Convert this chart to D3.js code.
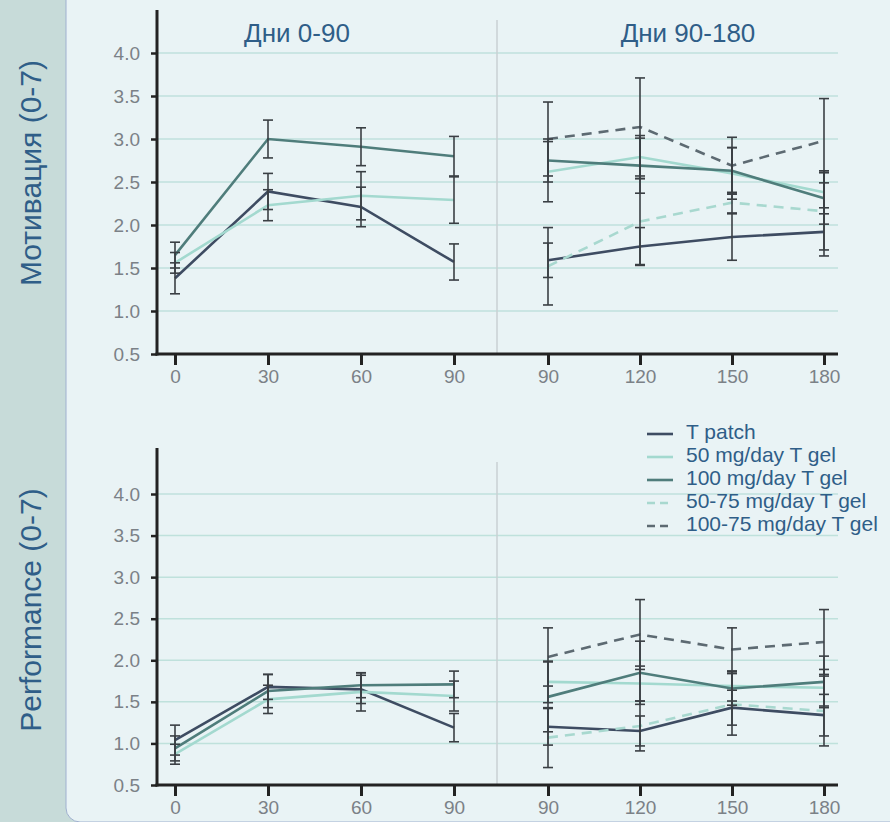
<!DOCTYPE html>
<html>
<head>
<meta charset="utf-8">
<script src="https://cdn.jsdelivr.net/npm/d3@7"></script>
<style>
  html, body { margin: 0; padding: 0; background: #c7dbd9; }
  svg { display: block; }
  text { font-family: "Liberation Sans", Arial, sans-serif; }
</style>
</head>
<body>
<svg id="chart" width="890" height="822"></svg>
<script>
// Study days on the two x-axis segments
const daysA = [0, 30, 60, 90];
const daysB = [90, 120, 150, 180];
const yTicks = [0.5, 1.0, 1.5, 2.0, 2.5, 3.0, 3.5, 4.0];
const panelTitles = ["Дни 0-90", "Дни 90-180"];
const rowLabels = ["Мотивация (0-7)", "Performance (0-7)"];

const seriesNames = ["T patch", "50 mg/day T gel", "100 mg/day T gel", "50-75 mg/day T gel", "100-75 mg/day T gel"];
const seriesKeys = ["patch", "gel50", "gel100", "gel50_75", "gel100_75"];

// Motivation, days 0-90: means and SE
const motA_patch  = [1.38, 2.39, 2.21, 1.57];
const motA_patchE = [0.18, 0.21, 0.23, 0.21];
const motA_gel50  = [1.56, 2.23, 2.34, 2.29];
const motA_gel50E = [0.12, 0.18, 0.28, 0.27];
const motA_gel100  = [1.65, 3.00, 2.91, 2.80];
const motA_gel100E = [0.15, 0.22, 0.22, 0.23];

// Motivation, days 90-180
const motB_patch  = [1.59, 1.75, 1.86, 1.92];
const motB_patchE = [0.20, 0.22, 0.27, 0.28];
const motB_gel50  = [2.62, 2.79, 2.60, 2.38];
const motB_gel50E = [0.35, 0.25, 0.30, 0.25];
const motB_gel100  = [2.75, 2.69, 2.63, 2.31];
const motB_gel100E = [0.25, 0.32, 0.27, 0.30];
const motB_gel50_75  = [1.52, 2.04, 2.26, 2.16];
const motB_gel50_75E = [0.45, 0.50, 0.12, 0.45];
const motB_gel100_75  = [3.00, 3.14, 2.69, 2.98];
const motB_gel100_75E = [0.43, 0.57, 0.33, 0.49];

// Performance, days 0-90
const perA_patch  = [1.04, 1.68, 1.65, 1.19];
const perA_patchE = [0.18, 0.15, 0.17, 0.17];
const perA_gel50  = [0.87, 1.53, 1.62, 1.57];
const perA_gel50E = [0.12, 0.17, 0.23, 0.18];
const perA_gel100  = [0.94, 1.63, 1.70, 1.71];
const perA_gel100E = [0.15, 0.20, 0.15, 0.16];

// Performance, days 90-180
const perB_patch  = [1.20, 1.15, 1.43, 1.34];
const perB_patchE = [0.22, 0.18, 0.21, 0.25];
const perB_gel50  = [1.74, 1.72, 1.69, 1.67];
const perB_gel50E = [0.25, 0.21, 0.18, 0.22];
const perB_gel100  = [1.56, 1.85, 1.66, 1.74];
const perB_gel100E = [0.42, 0.38, 0.20, 0.31];
const perB_gel50_75  = [1.07, 1.21, 1.47, 1.39];
const perB_gel50_75E = [0.36, 0.30, 0.37, 0.42];
const perB_gel100_75  = [2.04, 2.31, 2.13, 2.22];
const perB_gel100_75E = [0.35, 0.42, 0.26, 0.39];

const styles = {
  patch:     { color: "#3e4c62", dash: null },
  gel50:     { color: "#a3d9cf", dash: null },
  gel100:    { color: "#4f7d7b", dash: null },
  gel50_75:  { color: "#a8d8cf", dash: "10,7" },
  gel100_75: { color: "#5d6a72", dash: "10,7" }
};

const textBlue = "#2f5e88";
const tickGrey = "#7b8187";
const svg = d3.select("#chart");

// Backdrop: side strip and lighter main card
svg.append("rect").attr("x", 0).attr("y", 0).attr("width", 890).attr("height", 822).attr("fill", "#c7dbd9");
svg.append("rect").attr("x", 66).attr("y", -30).attr("width", 860).attr("height", 852)
  .attr("rx", 14).attr("fill", "#e9f3f5").attr("stroke", "#9fb0cf").attr("stroke-width", 1);

const xLeft = d3.scaleLinear().domain([0, 90]).range([175, 454]);
const xRight = d3.scaleLinear().domain([90, 180]).range([548, 824]);

const rows = [
  {
    label: rowLabels[0], yTop: 10, y: d3.scaleLinear().domain([0.5, 4.0]).range([354, 53]),
    dividerTop: 20, labelY: 173, titles: true,
    left:  { patch: [motA_patch, motA_patchE], gel50: [motA_gel50, motA_gel50E], gel100: [motA_gel100, motA_gel100E] },
    right: { patch: [motB_patch, motB_patchE], gel50: [motB_gel50, motB_gel50E], gel100: [motB_gel100, motB_gel100E],
             gel50_75: [motB_gel50_75, motB_gel50_75E], gel100_75: [motB_gel100_75, motB_gel100_75E] }
  },
  {
    label: rowLabels[1], yTop: 448, y: d3.scaleLinear().domain([0.5, 4.0]).range([785, 494]),
    dividerTop: 462, labelY: 610, titles: false,
    left:  { patch: [perA_patch, perA_patchE], gel50: [perA_gel50, perA_gel50E], gel100: [perA_gel100, perA_gel100E] },
    right: { patch: [perB_patch, perB_patchE], gel50: [perB_gel50, perB_gel50E], gel100: [perB_gel100, perB_gel100E],
             gel50_75: [perB_gel50_75, perB_gel50_75E], gel100_75: [perB_gel100_75, perB_gel100_75E] }
  }
];

const axisX0 = 157, axisX1 = 838, dividerX = 497;

rows.forEach(row => {
  const y = row.y;
  const g = svg.append("g");
  const base = y(0.5);

  // horizontal grid
  g.selectAll("line.grid").data(yTicks.filter(t => t > 0.5)).enter().append("line")
    .attr("x1", axisX0).attr("x2", axisX1)
    .attr("y1", d => y(d)).attr("y2", d => y(d))
    .attr("stroke", "#bfe1dc").attr("stroke-width", 1.5);

  // segment divider
  g.append("line").attr("x1", dividerX).attr("x2", dividerX)
    .attr("y1", row.dividerTop).attr("y2", base)
    .attr("stroke", "#c9d0d3").attr("stroke-width", 1.5);

  // y axis
  const yAxis = d3.axisLeft(y).tickValues(yTicks).tickSize(6).tickPadding(11).tickFormat(d3.format(".1f"));
  const ya = g.append("g").attr("transform", `translate(${axisX0},0)`).call(yAxis);
  ya.select(".domain").remove();
  ya.selectAll(".tick line").attr("stroke", "#222").attr("stroke-width", 2.5);
  ya.selectAll(".tick text").attr("fill", tickGrey).attr("font-size", 19)
    .attr("font-family", "Liberation Sans, Arial, sans-serif");
  g.append("line").attr("x1", axisX0).attr("x2", axisX0).attr("y1", row.yTop).attr("y2", base + 1.5)
    .attr("stroke", "#222").attr("stroke-width", 3);

  // x axes
  [[xLeft, daysA], [xRight, daysB]].forEach(([xs, days]) => {
    const xa = g.append("g").attr("transform", `translate(0,${base})`)
      .call(d3.axisBottom(xs).tickValues(days).tickSize(11).tickPadding(5).tickFormat(d3.format("d")));
    xa.select(".domain").remove();
    xa.selectAll(".tick line").attr("stroke", "#222").attr("stroke-width", 3);
    xa.selectAll(".tick text").attr("fill", tickGrey).attr("font-size", 19)
      .attr("font-family", "Liberation Sans, Arial, sans-serif");
  });
  g.append("line").attr("x1", axisX0 - 1.5).attr("x2", axisX1).attr("y1", base).attr("y2", base)
    .attr("stroke", "#222").attr("stroke-width", 3);

  // series lines and error bars
  const drawSet = (set, xs, days) => {
    const keys = seriesKeys.filter(k => set[k]);
    keys.forEach(k => {
      const [vals] = set[k];
      const pts = days.map((d, i) => [xs(d), y(vals[i])]);
      g.append("path").attr("d", d3.line()(pts)).attr("fill", "none")
        .attr("stroke", styles[k].color).attr("stroke-width", 2.6)
        .attr("stroke-dasharray", styles[k].dash);
    });
    keys.forEach(k => {
      const [vals, errs] = set[k];
      days.forEach((d, i) => {
        const cx = xs(d), lo = y(vals[i] - errs[i]), hi = y(vals[i] + errs[i]);
        g.append("line").attr("x1", cx).attr("x2", cx).attr("y1", lo).attr("y2", hi)
          .attr("stroke", "#3a3f44").attr("stroke-width", 1.6);
        [lo, hi].forEach(yy => g.append("line").attr("x1", cx - 5).attr("x2", cx + 5)
          .attr("y1", yy).attr("y2", yy).attr("stroke", "#3a3f44").attr("stroke-width", 1.6));
      });
    });
  };
  drawSet(row.left, xLeft, daysA);
  drawSet(row.right, xRight, daysB);

  // row label
  svg.append("text").attr("transform", `translate(41,${row.labelY}) rotate(-90)`)
    .attr("text-anchor", "middle").attr("fill", textBlue).attr("font-size", 30).text(row.label);

  if (row.titles) {
    svg.append("text").attr("x", 297).attr("y", 42).attr("text-anchor", "middle")
      .attr("fill", textBlue).attr("font-size", 26).text(panelTitles[0]);
    svg.append("text").attr("x", 688).attr("y", 42).attr("text-anchor", "middle")
      .attr("fill", textBlue).attr("font-size", 26).text(panelTitles[1]);
  }
});

// legend
const legend = svg.append("g");
const legendY = d3.scalePoint().domain(seriesKeys).range([432, 524]);
seriesKeys.forEach((k, i) => {
  const yy = legendY(k);
  legend.append("line").attr("x1", 647).attr("x2", 673).attr("y1", yy + 2).attr("y2", yy + 2)
    .attr("stroke", styles[k].color).attr("stroke-width", 2.6)
    .attr("stroke-dasharray", styles[k].dash ? "8,5" : null);
  legend.append("text").attr("x", 686).attr("y", yy).attr("dy", "0.35em")
    .attr("fill", textBlue).attr("font-size", 21).text(seriesNames[i]);
});
</script>
</body>
</html>
